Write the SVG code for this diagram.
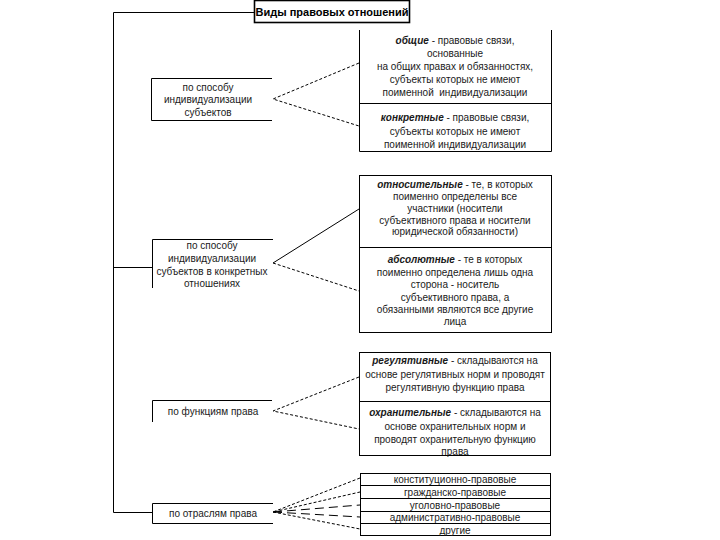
<svg xmlns="http://www.w3.org/2000/svg" width="720" height="540" viewBox="0 0 720 540">
<style>
.ln{fill:none;stroke:#000;stroke-width:1}
.bx{fill:#fff;stroke:#000;stroke-width:1}
.tb{fill:#fff;stroke:#000;stroke-width:1.6}
.d{fill:none;stroke:#000;stroke-width:1;stroke-dasharray:3,2}
.dl{fill:none;stroke:#000;stroke-width:1;stroke-dasharray:9,5}
text{font-family:"Liberation Sans",Arial,sans-serif;font-size:10px;fill:#1a1a1a;text-anchor:middle}
.t{font-size:11px;font-weight:bold;fill:#000}
.bi{font-weight:bold;font-style:italic}
</style>
<rect width="720" height="540" fill="#fff"/>
<g id="connectors">
<path class="ln" d="M254,12.5 H113.5 V512.5 H152"/>
<path class="ln" d="M113.5,267.5 H152"/>
<path class="d" d="M359,63 L273,99 L359,126"/>
<path class="ln" d="M359,209 L273,263"/>
<path class="d" d="M273,263 L359,291"/>
<path class="d" d="M359,377 L273,411 L359,429"/>
<path class="d" d="M360,478 L273,512 L360,492 M273,512 L360,529"/>
<path class="dl" d="M273,512 L360,505 M273,512 L360,517"/>
</g>
<g id="title">
<rect class="tb" x="254.5" y="0.5" width="155" height="22"/>
<text class="t" x="332" y="16">Виды правовых отношений</text>
</g>
<g id="by-individualization">
<path class="ln" d="M272,78.5 H151.5 V120.5 H272"/>
<text x="208" y="91">по способу</text>
<text x="208" y="103">индивидуализации</text>
<text x="208" y="116">субъектов</text>
</g>
<g id="general-concrete">
<path class="ln" d="M359.5,30 V151.5 H551.5 V30 M359.5,103.5 H551.5"/>
<text x="455" y="44"><tspan class="bi">общие</tspan> - правовые связи,</text>
<text x="455" y="57">основанные</text>
<text x="455" y="70">на общих правах и обязанностях,</text>
<text x="455" y="83">субъекты которых не имеют</text>
<text x="455" y="96" xml:space="preserve">поименной  индивидуализации</text>
<text x="455" y="121"><tspan class="bi">конкретные</tspan> - правовые связи,</text>
<text x="455" y="135">субъекты которых не имеют</text>
<text x="455" y="148">поименной индивидуализации</text>
</g>
<g id="by-individualization-concrete">
<path class="ln" d="M273,239.5 H152.5 V288"/>
<text x="212" y="249">по способу</text>
<text x="212" y="262">индивидуализации</text>
<text x="212" y="275">субъектов в конкретных</text>
<text x="212" y="287">отношениях</text>
</g>
<g id="relative-absolute">
<rect class="bx" x="359.5" y="175.5" width="192" height="157"/>
<path class="ln" d="M359.5,247.5 H551.5"/>
<text x="455" y="188"><tspan class="bi">относительные</tspan> - те, в которых</text>
<text x="455" y="200">поименно определены все</text>
<text x="455" y="212">участники (носители</text>
<text x="455" y="223.5">субъективного права и носители</text>
<text x="455" y="235">юридической обязанности)</text>
<text x="455" y="263"><tspan class="bi">абсолютные</tspan> - те в которых</text>
<text x="455" y="275.5">поименно определена лишь одна</text>
<text x="455" y="288">сторона - носитель</text>
<text x="455" y="300.5">субъективного права, а</text>
<text x="455" y="312.5">обязанными являются все другие</text>
<text x="455" y="325">лица</text>
</g>
<g id="by-functions">
<path class="ln" d="M272,400.5 H152.5 V422"/>
<text x="213" y="415">по функциям права</text>
</g>
<g id="regulative-protective">
<rect class="bx" x="359.5" y="352.5" width="191" height="103"/>
<path class="ln" d="M359.5,401.5 H550.5"/>
<text x="455" y="364"><tspan class="bi">регулятивные</tspan> - складываются на</text>
<text x="455" y="377.5">основе регулятивных норм и проводят</text>
<text x="455" y="391">регулятивную функцию права</text>
<text x="455" y="416"><tspan class="bi">охранительные</tspan> - складываются на</text>
<text x="455" y="430">основе охранительных норм и</text>
<text x="455" y="443">проводят охранительную функцию</text>
<text x="455" y="454.5">права</text>
</g>
<g id="by-branches">
<path class="ln" d="M273,503.5 H152.5 V523.5 H273"/>
<text x="213" y="517">по отраслям права</text>
</g>
<g id="branches">
<rect class="bx" x="360.5" y="473.5" width="190" height="62"/>
<path class="ln" d="M360.5,485.5 H550.5 M360.5,498.5 H550.5 M360.5,511.5 H550.5 M360.5,523.5 H550.5"/>
<text x="455" y="483">конституционно-правовые</text>
<text x="455" y="495.5">гражданско-правовые</text>
<text x="455" y="508.5">уголовно-правовые</text>
<text x="455" y="521">административно-правовые</text>
<text x="455" y="533.5">другие</text>
</g>
</svg>
